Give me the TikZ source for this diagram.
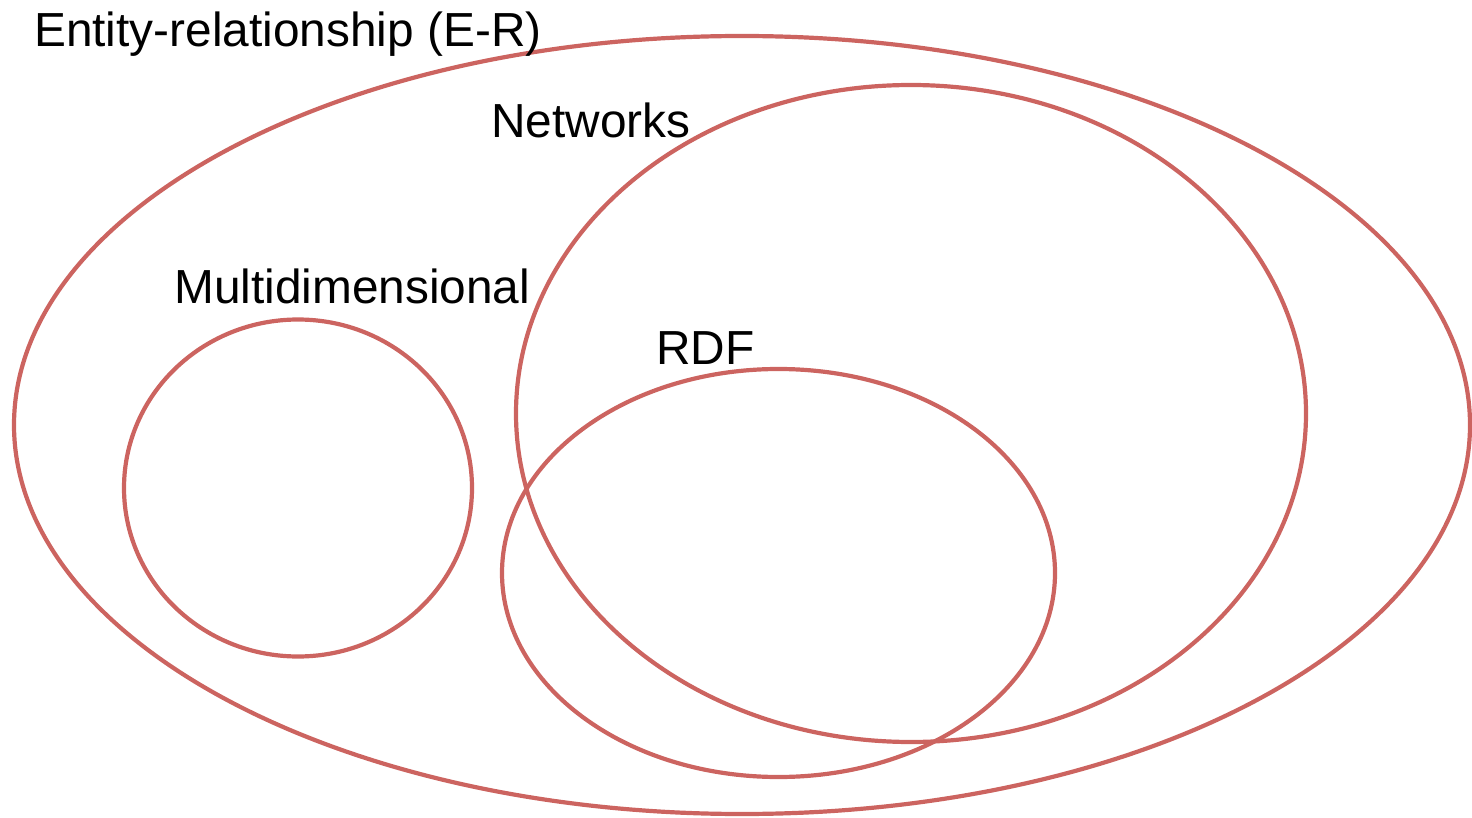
\documentclass[tikz,border=0pt]{standalone}
\usepackage{fontspec}
\setmainfont{Liberation Sans}
\definecolor{setred}{RGB}{204,100,96}
\begin{document}
\begin{tikzpicture}[x=1pt,y=-1pt,
  setring/.style={draw=setred,line width=4.2pt},
  setlabel/.style={anchor=base west,inner sep=0pt,font=\fontsize{47.8}{52}\selectfont,text=black}]
\useasboundingbox (0,0) rectangle (1472,818);
\draw[setring] (742,425) ellipse [x radius=728, y radius=389];
\draw[setring] (911,413.5) ellipse [x radius=395, y radius=328.5];
\draw[setring] (778.5,573) ellipse [x radius=276.5, y radius=204];
\draw[setring] (298,488) ellipse [x radius=174, y radius=168.5];
\node[setlabel] (er) at (34,47) {Entity-relationship (E-R)};
\node[setlabel] (nw) at (491,138) {Networks};
\node[setlabel] (md) at (174,304) {Multidimensional};
\node[setlabel] (rdf) at (656,364) {RDF};
\end{tikzpicture}
\end{document}
